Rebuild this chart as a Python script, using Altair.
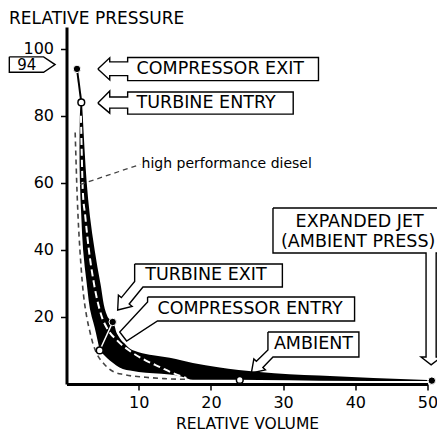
import altair as alt
import pandas as pd

FONT = "DejaVu Sans"

# ---- data (relative volume V, relative pressure P) ----
# steep part of the working band, by pressure
band_P = [84, 80, 70, 60, 50, 40, 30, 20, 18.5, 15, 10]
band_left = [1.95, 1.85, 1.8, 1.86, 2.05, 2.3, 2.8, 3.5, 3.7, 4.1, 4.6]
band_right = [2.15, 2.25, 2.5, 2.8, 3.25, 3.9, 4.7, 5.7, 6.4, 7.0, 8.8]
# flat tail of the working band, by volume
tail_V = [4.6, 6.0, 7.8, 8.8, 10, 12, 14.3, 16, 17.5, 21, 26.7, 35, 50]
tail_lo = [10, 7, 4.5, 4.0, 3.6, 3.2, 2.8, 2.2, 1.3, 1.3, 1.2, 1.0, 0.9]
tail_hi = [11, 14, 12.5, 10.5, 9.5, 8.6, 7.8, 7.0, 6.3, 5.0, 3.6, 2.5, 1.2]
# white dashed cycle inside the band
white_V = [2.0, 2.1, 2.25, 2.6, 3.1, 3.8, 4.9, 5.8, 7, 9, 11, 13, 14.7, 16.6]
white_P = [80, 70, 58, 50, 40, 30, 20, 16, 13, 9.5, 7, 5, 3.3, 1.8]
# high performance diesel (grey dashed)
diesel_V = [1.2, 1.3, 1.4, 1.6, 1.86, 2.2, 2.8, 3.2, 3.6, 4.2, 5.0, 6.4, 8, 11, 13.5, 16.6]
diesel_P = [75, 68, 61, 50, 40, 30, 20, 16, 12.5, 9, 6.5, 3.8, 2.8, 2.0, 1.6, 1.4]
leader_V = [1.9, 10.2]
leader_P = [59.5, 65.5]
# state points
black_pts_V = [1.45, 6.4, 50.6]
black_pts_P = [94, 18.5, 1.0]
white_pts_V = [2.05, 4.6, 24]
white_pts_P = [84, 10, 1.2]
seg_black_V = [1.45, 2.05]
seg_black_P = [94, 84]
seg_white_V = [4.6, 6.4]
seg_white_P = [10, 18.5]

# callout outlines (data units)
callouts = {
    "box94": ([-7.92, -3.17, -1.58, -3.17, -7.92, -7.92],
              [97.6, 97.6, 95.3, 93.0, 93.0, 97.6]),
    "cexit": ([4.34, 5.99, 5.99, 8.47, 8.47, 34.9, 34.9, 8.47, 8.47, 5.99, 5.99, 4.34],
              [94.0, 97.3, 96.1, 96.1, 97.4, 97.4, 90.5, 90.5, 92.0, 92.0, 90.7, 94.0]),
    "tentry": ([4.34, 5.99, 5.99, 8.47, 8.47, 31.4, 31.4, 8.47, 8.47, 5.99, 5.99, 4.34],
               [83.8, 87.4, 85.6, 85.6, 87.1, 87.1, 80.5, 80.5, 82.3, 82.3, 80.8, 83.8]),
    "jet": ([28.6, 53, 53, 51.2, 51.2, 51.9, 50.5, 49.1, 49.8, 49.8, 28.6, 28.6],
            [52.5, 52.5, 39.1, 39.1, 8.05, 8.05, 5.7, 8.05, 8.05, 39.1, 39.1, 52.5]),
    "texit": ([9.44, 29.9, 29.9, 10.59, 8.68, 9.09, 7.09, 7.19, 7.60, 9.44, 9.44],
              [35.80, 35.80, 28.94, 28.94, 23.87, 23.12, 22.08, 26.52, 25.78, 30.61, 35.80]),
    "centry": ([11.23, 39.9, 39.9, 12.60, 8.33, 7.37, 11.23, 11.23],
               [25.95, 25.95, 18.79, 18.79, 12.83, 15.51, 24.46, 25.95]),
    "amb": ([27.9, 40.5, 40.5, 28.6, 27.2, 27.55, 25.6, 25.95, 26.3, 27.9, 27.9],
            [15.51, 15.51, 8.05, 8.05, 4.92, 4.21, 3.28, 7.49, 6.77, 10.17, 15.51]),
}

left_texts = ["COMPRESSOR EXIT", "TURBINE ENTRY", "TURBINE EXIT", "COMPRESSOR ENTRY"]
left_V = [9.7, 9.7, 10.9, 12.6]
left_P = [94.0, 83.8, 32.4, 22.4]
center_texts = ["EXPANDED JET", "(AMBIENT PRESS)", "AMBIENT"]
center_V = [40.6, 40.4, 34.2]
center_P = [48.3, 42.4, 11.8]
box_label = ["94"]
box_label_V = [-5.5]
box_label_P = [95.2]
diesel_label = ["high performance diesel"]
diesel_label_V = [10.4]
diesel_label_P = [65.5]

# ---- scales / axes ----
xscale = alt.Scale(domain=[0, 50], nice=False, zero=False)
yscale = alt.Scale(domain=[0, 106.5], nice=False, zero=False)
common = dict(grid=False, domainColor="black", domainWidth=3, tickColor="black",
              tickWidth=1.5, labelFontSize=16, labelFont=FONT, labelColor="black",
              titleFont=FONT, titleFontWeight="normal", titleColor="black")
xaxis = alt.Axis(values=[10, 20, 30, 40, 50], title="RELATIVE VOLUME", tickSize=6,
                 labelPadding=4, labelFlush=False, titleFontSize=15.5, titleY=39,
                 titleBaseline="middle", **common)
yaxis = alt.Axis(values=[20, 40, 60, 80, 100], title="RELATIVE PRESSURE", tickSize=6,
                 labelPadding=7, titleAngle=0, titleAlign="left", titleX=-58,
                 titleY=-9, titleBaseline="middle", titleFontSize=17, **common)


def X(f):
    return alt.X(f, type="quantitative", scale=xscale, axis=xaxis)


def Y(f):
    return alt.Y(f, type="quantitative", scale=yscale, axis=yaxis)


band_df = pd.DataFrame({"P": band_P, "L": band_left, "R": band_right})
tail_df = pd.DataFrame({"V": tail_V, "lo": tail_lo, "hi": tail_hi})
white_df = pd.DataFrame({"V": white_V, "P": white_P, "i": range(len(white_V))})
diesel_df = pd.DataFrame({"V": diesel_V, "P": diesel_P, "i": range(len(diesel_V))})
leader_df = pd.DataFrame({"V": leader_V, "P": leader_P, "i": [0, 1]})
bpts = pd.DataFrame({"V": black_pts_V, "P": black_pts_P})
wpts = pd.DataFrame({"V": white_pts_V, "P": white_pts_P})
sb = pd.DataFrame({"V": seg_black_V, "P": seg_black_P, "i": [0, 1]})
sw = pd.DataFrame({"V": seg_white_V, "P": seg_white_P, "i": [0, 1]})
rows = []
for name, (vs, ps) in callouts.items():
    for k, (v, p) in enumerate(zip(vs, ps)):
        rows.append({"shape": name, "i": k, "V": v, "P": p})
call_df = pd.DataFrame(rows)
lt = pd.DataFrame({"t": left_texts, "V": left_V, "P": left_P})
ct = pd.DataFrame({"t": center_texts, "V": center_V, "P": center_P})
bt = pd.DataFrame({"t": box_label, "V": box_label_V, "P": box_label_P})
dl = pd.DataFrame({"t": diesel_label, "V": diesel_label_V, "P": diesel_label_P})

band = alt.Chart(band_df).mark_area(color="black", orient="horizontal", interpolate="monotone").encode(
    y=Y("P"), x=X("L"), x2="R")
tail = alt.Chart(tail_df).mark_area(color="black", orient="vertical", interpolate="monotone").encode(
    x=X("V"), y=Y("hi"), y2="lo")
white = alt.Chart(white_df).mark_line(color="white", strokeWidth=2, strokeDash=[7, 4],
                                      interpolate="monotone").encode(
    x=X("V"), y=Y("P"), order="i:Q")
diesel = alt.Chart(diesel_df).mark_line(color="#444444", strokeWidth=1.6, strokeDash=[5, 4],
                                        interpolate="monotone").encode(
    x=X("V"), y=Y("P"), order="i:Q")
leader = alt.Chart(leader_df).mark_line(color="#444444", strokeWidth=1.3, strokeDash=[5, 4]).encode(
    x=X("V"), y=Y("P"), order="i:Q")
segb = alt.Chart(sb).mark_line(color="black", strokeWidth=2).encode(x=X("V"), y=Y("P"), order="i:Q")
segw = alt.Chart(sw).mark_line(color="white", strokeWidth=1.5).encode(x=X("V"), y=Y("P"), order="i:Q")
bp = alt.Chart(bpts).mark_point(shape="circle", filled=True, fill="black", stroke="white",
                                strokeWidth=1, size=55, opacity=1).encode(x=X("V"), y=Y("P"))
wp = alt.Chart(wpts).mark_point(shape="circle", filled=True, fill="white", stroke="black",
                                strokeWidth=1.5, size=45, opacity=1).encode(x=X("V"), y=Y("P"))
calls = alt.Chart(call_df).mark_line(color="black", strokeWidth=1.4, strokeJoin="miter").encode(
    x=X("V"), y=Y("P"), detail="shape:N", order="i:Q")
ltext = alt.Chart(lt).mark_text(align="left", baseline="middle", font=FONT, fontSize=17.5,
                                color="black").encode(x=X("V"), y=Y("P"), text="t:N")
ctext = alt.Chart(ct).mark_text(align="center", baseline="middle", font=FONT, fontSize=17.5,
                                color="black").encode(x=X("V"), y=Y("P"), text="t:N")
btext = alt.Chart(bt).mark_text(align="center", baseline="middle", font=FONT, fontSize=15,
                                color="black").encode(x=X("V"), y=Y("P"), text="t:N")
dtext = alt.Chart(dl).mark_text(align="left", baseline="middle", font=FONT, fontSize=14,
                                color="black").encode(x=X("V"), y=Y("P"), text="t:N")

chart = alt.layer(band, tail, white, diesel, leader, segb, segw, calls, bp, wp,
                  ltext, ctext, btext, dtext).properties(
    width=361, height=357,
    autosize=alt.AutoSizeParams(type="none"),
    padding={"left": 58.5, "top": 19, "right": 9.5, "bottom": 48},
).configure_view(stroke=None)

chart.save("out.html", embed_options={"renderer": "svg", "actions": False})
